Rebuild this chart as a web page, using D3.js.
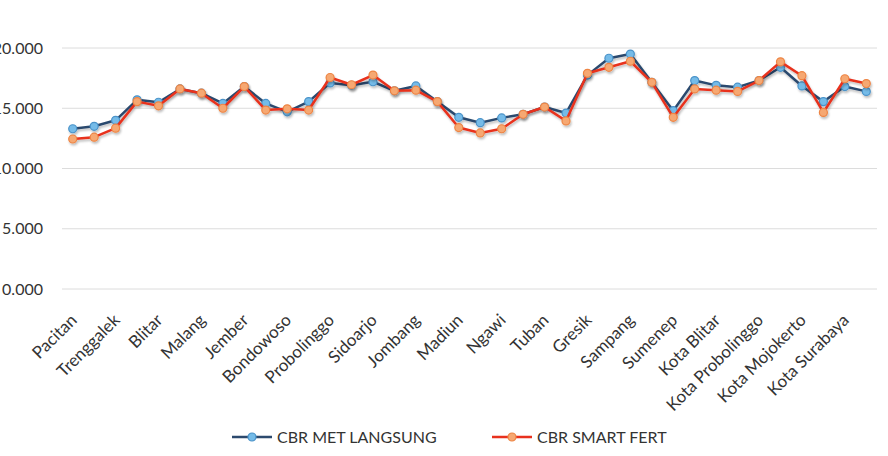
<!DOCTYPE html>
<html>
<head>
<meta charset="utf-8">
<script src="https://d3js.org/d3.v7.min.js"></script>
<style>
  body { margin: 0; background: #fff; }
  text { font-family: Lato, "Open Sans", sans-serif; fill: #333; }
</style>
</head>
<body>
<div id="chart"></div>
<script>
// regencies / cities of Jawa Timur, in chart order
var kabkota = ["Pacitan", "Ponorogo", "Trenggalek", "Tulungagung", "Blitar", "Kediri",
  "Malang", "Lumajang", "Jember", "Banyuwangi", "Bondowoso", "Situbondo",
  "Probolinggo", "Pasuruan", "Sidoarjo", "Mojokerto", "Jombang", "Nganjuk",
  "Madiun", "Magetan", "Ngawi", "Bojonegoro", "Tuban", "Lamongan",
  "Gresik", "Bangkalan", "Sampang", "Pamekasan", "Sumenep", "Kota Kediri",
  "Kota Blitar", "Kota Malang", "Kota Probolinggo", "Kota Pasuruan", "Kota Mojokerto", "Kota Madiun",
  "Kota Surabaya", "Kota Batu"];

// CBR direct method
var cbrLangsung = [13.3, 13.5, 14.0, 15.7, 15.5, 16.6,
  16.25, 15.4, 16.8, 15.4, 14.7, 15.55,
  17.1, 16.9, 17.2, 16.45, 16.85, 15.55,
  14.25, 13.8, 14.2, 14.5, 15.1, 14.6,
  17.75, 19.15, 19.5, 17.15, 14.8, 17.3,
  16.9, 16.75, 17.3, 18.4, 16.85, 15.55,
  16.8, 16.4];

// CBR smart fert
var cbrSmartFert = [12.45, 12.6, 13.35, 15.55, 15.2, 16.6,
  16.25, 15.0, 16.8, 14.85, 14.95, 14.85,
  17.55, 16.95, 17.75, 16.45, 16.5, 15.55,
  13.4, 12.95, 13.3, 14.5, 15.1, 13.95,
  17.9, 18.4, 18.9, 17.15, 14.25, 16.6,
  16.5, 16.4, 17.3, 18.85, 17.7, 14.65,
  17.45, 17.05];

var yTicks = [0, 5, 10, 15, 20];

var width = 888, height = 456;

var svg = d3.select("#chart")
  .append("svg")
    .attr("width", width)
    .attr("height", height);

var x = d3.scaleBand()
    .domain(kabkota)
    .range([62, 877]);

var y = d3.scaleLinear()
    .domain([0, 20])
    .range([289, 48]);

// gridlines
svg.append("g")
  .selectAll("line")
  .data(yTicks)
  .enter()
  .append("line")
    .attr("x1", 62)
    .attr("x2", 877)
    .attr("y1", d => y(d))
    .attr("y2", d => y(d))
    .attr("stroke", "#dcdcdc")
    .attr("stroke-width", 1);

// y labels (dot separator, 3 decimals) - left side is cropped like the original
svg.append("g")
  .selectAll("text")
  .data(yTicks)
  .enter()
  .append("text")
    .attr("x", 43)
    .attr("y", d => y(d))
    .attr("dy", "0.35em")
    .attr("text-anchor", "end")
    .style("font-size", "16px")
    .text(d => d + ".000");

// x labels, every other category
var xLabels = kabkota.filter((d, i) => i % 2 == 0);

svg.append("g")
  .selectAll("text")
  .data(xLabels)
  .enter()
  .append("text")
    .attr("transform", d => "translate(" + (x(d) + x.bandwidth() / 2 + 1) + ",317) rotate(-45)")
    .attr("text-anchor", "end")
    .attr("dy", "0.35em")
    .style("font-size", "17px")
    .text(d => d);

var shadow = svg.append("defs").append("filter")
    .attr("id", "shadow")
    .attr("x", "-10%").attr("y", "-10%")
    .attr("width", "120%").attr("height", "130%");
shadow.append("feDropShadow")
    .attr("dx", 1).attr("dy", 2)
    .attr("stdDeviation", 1.2)
    .attr("flood-color", "#000")
    .attr("flood-opacity", 0.25);

var series = [
  {name: "CBR MET LANGSUNG", values: cbrLangsung, line: "#2c4a6e", fill: "#74bbe8", stroke: "#4b93c9"},
  {name: "CBR SMART FERT", values: cbrSmartFert, line: "#e8311e", fill: "#f6a872", stroke: "#ee8544"}
];

var line = d3.line()
    .x((d, i) => x(kabkota[i]) + x.bandwidth() / 2)
    .y(d => y(d));

series.forEach(function(s) {
    var g = svg.append("g").attr("filter", "url(#shadow)");

    g.append("path")
      .datum(s.values)
      .attr("d", line)
      .attr("fill", "none")
      .attr("stroke", s.line)
      .attr("stroke-width", 2.5)
      .attr("stroke-linejoin", "round");

    g.selectAll("circle")
      .data(s.values)
      .enter()
      .append("circle")
        .attr("cx", (d, i) => x(kabkota[i]) + x.bandwidth() / 2)
        .attr("cy", d => y(d))
        .attr("r", 4)
        .attr("fill", s.fill)
        .attr("stroke", s.stroke)
        .attr("stroke-width", 1.2);
});

// legend
var legendX = [232, 492];
var legend = svg.append("g")
  .selectAll("g")
  .data(series)
  .enter()
  .append("g")
    .attr("transform", (d, i) => "translate(" + legendX[i] + ",437)");

legend.append("line")
    .attr("x1", 0).attr("x2", 40)
    .attr("stroke", d => d.line)
    .attr("stroke-width", 2.5);

legend.append("circle")
    .attr("cx", 20)
    .attr("r", 4)
    .attr("fill", d => d.fill)
    .attr("stroke", d => d.stroke)
    .attr("stroke-width", 1.2);

legend.append("text")
    .attr("x", 45)
    .attr("dy", "0.35em")
    .style("font-size", "16px")
    .text(d => d.name);
</script>
</body>
</html>
